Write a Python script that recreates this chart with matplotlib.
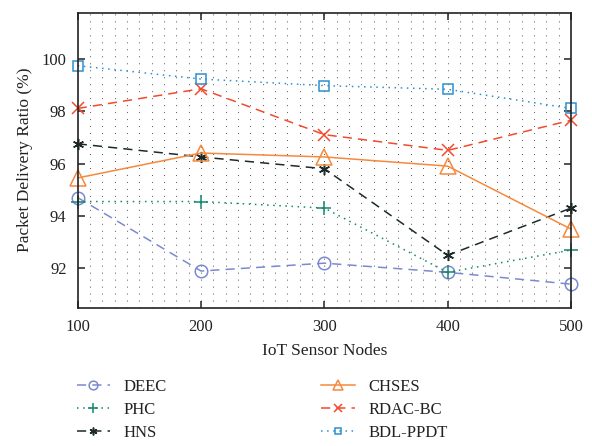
import numpy as np
import matplotlib
matplotlib.use("Agg")
import matplotlib.pyplot as plt

plt.rcParams['font.family'] = ['Liberation Serif', 'DejaVu Serif']

nodes = [100, 200, 300, 400, 500]
deec = [94.7, 91.9, 92.2, 91.85, 91.4]
phc = [94.55, 94.55, 94.3, 91.85, 92.7]
hns = [96.75, 96.25, 95.8, 92.5, 94.3]
chses = [95.45, 96.4, 96.25, 95.9, 93.5]
rdac_bc = [98.1, 98.85, 97.1, 96.5, 97.65]
bdl_ppdt = [99.73, 99.22, 98.97, 98.83, 98.1]

y_ticks = [92, 94, 96, 98, 100]

fig = plt.figure(figsize=(5.92, 4.46), dpi=100)
ax = fig.add_axes([0.1313, 0.31, 0.8332, 0.6615])

# dotted vertical minor grid, every 10 nodes
for gx in np.arange(110, 500, 10):
    ax.axvline(gx, color='#555555', lw=0.75, linestyle=(0, (0.9, 5.8)), zorder=0)

asterisk = (6, 2, 0)
series = [
    ('DEEC', deec, '#7a8ad0', (0, (6, 4)), 'o', 'none', 9),
    ('PHC', phc, '#14876d', (0, (1, 3)), '+', None, 10),
    ('HNS', hns, '#1d2a2a', (0, (6, 4)), asterisk, None, 8),
    ('CHSES', chses, '#f5893e', '-', '^', 'none', 11),
    ('RDAC-BC', rdac_bc, '#f24a2c', (0, (6, 4)), 'x', None, 8),
    ('BDL-PPDT', bdl_ppdt, '#2e8fd0', (0, (1, 3)), 's', 'none', 7),
]
handles = []
for name, vals, col, ls, mk, mfc, size in series:
    kw = dict(color=col, linestyle=ls, lw=1.1, marker=mk, label=name,
              markeredgewidth=1.1, clip_on=False, markersize=size)
    if mfc == 'none':
        kw['markerfacecolor'] = 'none'
    h, = ax.plot(nodes, vals, **kw)
    handles.append(h)

ax.set_xlim(100, 500)
ax.set_ylim(90.5, 101.75)
ax.set_xticks(nodes)
ax.set_yticks(y_ticks)
ax.tick_params(direction='in', length=5, width=1.1, top=True, right=True,
               labelsize=12, colors='#222222', pad=8)
for s in ax.spines.values():
    s.set_linewidth(1.2)
    s.set_color('#222222')

ax.set_xlabel('IoT Sensor Nodes', fontsize=12.5, color='#222222', labelpad=6)
ax.set_ylabel('Packet Delivery Ratio (%)', fontsize=12.5, color='#222222', labelpad=6)

fig.legend(handles=handles, loc='upper left', bbox_to_anchor=(0.104, 0.184),
           ncol=2, frameon=False, fontsize=12, handlelength=2.0,
           markerscale=0.7, columnspacing=9.3, labelspacing=0.42,
           handletextpad=0.8, labelcolor='#222222')

fig.savefig('out.png', dpi=100)
